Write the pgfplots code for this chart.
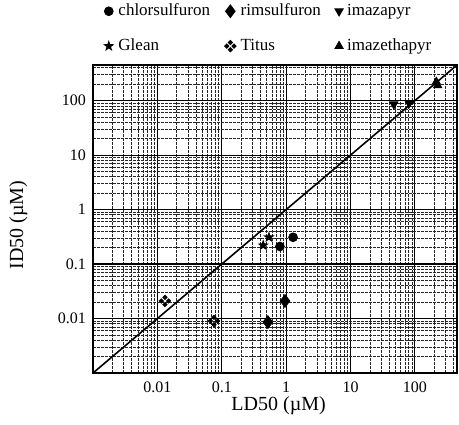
\documentclass[border=0pt]{standalone}
\usepackage{fontspec}
\setmainfont{Liberation Serif}
\usepackage{pgfplots}
\pgfplotsset{compat=1.18}
\usetikzlibrary{plotmarks}

% filled five-pointed star
\pgfdeclareplotmark{fstar}{%
  \pgfpathmoveto{\pgfpointpolar{90}{1.3\pgfplotmarksize}}%
  \pgfpathlineto{\pgfpointpolar{126}{0.52\pgfplotmarksize}}%
  \pgfpathlineto{\pgfpointpolar{162}{1.3\pgfplotmarksize}}%
  \pgfpathlineto{\pgfpointpolar{198}{0.52\pgfplotmarksize}}%
  \pgfpathlineto{\pgfpointpolar{234}{1.3\pgfplotmarksize}}%
  \pgfpathlineto{\pgfpointpolar{270}{0.52\pgfplotmarksize}}%
  \pgfpathlineto{\pgfpointpolar{306}{1.3\pgfplotmarksize}}%
  \pgfpathlineto{\pgfpointpolar{342}{0.52\pgfplotmarksize}}%
  \pgfpathlineto{\pgfpointpolar{18}{1.3\pgfplotmarksize}}%
  \pgfpathlineto{\pgfpointpolar{54}{0.52\pgfplotmarksize}}%
  \pgfpathclose
  \pgfusepathqfill}

% four small diamonds (Titus)
\newcommand\smalldia[2]{%
  \pgfpathmoveto{\pgfpoint{#1+0.45\pgfplotmarksize}{#2}}%
  \pgfpathlineto{\pgfpoint{#1}{#2+0.45\pgfplotmarksize}}%
  \pgfpathlineto{\pgfpoint{#1-0.45\pgfplotmarksize}{#2}}%
  \pgfpathlineto{\pgfpoint{#1}{#2-0.45\pgfplotmarksize}}%
  \pgfpathclose}
\pgfdeclareplotmark{titus}{%
  \smalldia{0.6\pgfplotmarksize}{0pt}%
  \smalldia{-0.6\pgfplotmarksize}{0pt}%
  \smalldia{0pt}{0.6\pgfplotmarksize}%
  \smalldia{0pt}{-0.6\pgfplotmarksize}%
  \pgfusepathqfill}

\begin{document}
\begin{tikzpicture}
\begin{axis}[
  xmode=log, ymode=log,
  scale only axis,
  width=182pt, height=154pt,
  xmin=0.001, xmax=450, ymin=0.001, ymax=450,
  xtick={0.001,0.01,0.1,1,10,100},
  xticklabels={,0.01,0.1,1,10,100},
  ytick={0.001,0.01,0.1,1,10,100},
  yticklabels={,0.01,0.1,1,10,100},
  minor xtick={0.002,0.003,0.004,0.005,0.006,0.007,0.008,0.009,
    0.02,0.03,0.04,0.05,0.06,0.07,0.08,0.09,
    0.2,0.3,0.4,0.5,0.6,0.7,0.8,0.9,
    2,3,4,5,6,7,8,9,20,30,40,50,60,70,80,90,200,300,400},
  minor ytick={0.002,0.003,0.004,0.005,0.006,0.007,0.008,0.009,
    0.02,0.03,0.04,0.05,0.06,0.07,0.08,0.09,
    0.2,0.3,0.4,0.5,0.6,0.7,0.8,0.9,
    2,3,4,5,6,7,8,9,20,30,40,50,60,70,80,90,200,300,400},
  grid=both,
  major grid style={black, line width=0.55pt},
  minor grid style={black!85, line width=0.35pt, dash pattern=on 1.5pt off 0.5pt},
  tick style={draw=none},
  axis line style={line width=0.8pt},
  /pgf/number format/assume math mode=true,
  tick label style={font=\fontsize{8}{9}\selectfont},
  xticklabel style={yshift=-1pt},
  label style={font=\fontsize{9.5}{11}\selectfont},
  xlabel={LD50 (µM)},
  ylabel={ID50 (µM)},
  every axis x label/.style={at={(axis description cs:0.51,-0.105)}, anchor=center},
  every axis y label/.style={at={(axis description cs:-0.205,0.48)}, rotate=90, anchor=center},
  legend columns=3,
  legend cell align=left,
  legend style={draw=none, fill=none, at={(axis description cs:0.484,1.01)}, anchor=south,
    font=\fontsize{8.5}{10}\selectfont, row sep=6pt,
    /tikz/every even column/.append style={column sep=5pt}},
  legend image code/.code={\draw[mark repeat=2,mark phase=2] plot coordinates {(0cm,0cm) (0.15cm,0cm) (0.3cm,0cm)};},
]
\addplot[black, line width=0.8pt, forget plot] coordinates {(0.001,0.001) (450,450)};

\addplot[only marks, black, mark=*, mark size=2.2pt] coordinates {(1.28,0.31) (0.80,0.21)};
\addlegendentry{chlorsulfuron}
\addplot[only marks, black, mark=diamond*, mark size=3.2pt] coordinates {(0.96,0.021) (0.52,0.0086)};
\addlegendentry{rimsulfuron}
\addplot[only marks, black, mark=triangle*, mark size=2.4pt, mark options={rotate=180}] coordinates {(47,86) (81,90)};
\addlegendentry{imazapyr}
\addplot[only marks, black, mark=fstar, mark size=2.3pt] coordinates {(0.54,0.31) (0.44,0.22)};
\addlegendentry{Glean}
\addplot[only marks, black, mark=titus, mark size=3pt] coordinates {(0.0131,0.021) (0.0757,0.009)};
\addlegendentry{Titus}
\addplot[only marks, black, mark=triangle*, mark size=2.4pt] coordinates {(215,220) (225,190)};
\addlegendentry{imazethapyr}
\end{axis}
\pgfresetboundingbox
\path ([shift={(-46.5pt,-25.5pt)}]current axis.south west) rectangle ([shift={(1pt,32.5pt)}]current axis.north east);
\end{tikzpicture}
\end{document}
